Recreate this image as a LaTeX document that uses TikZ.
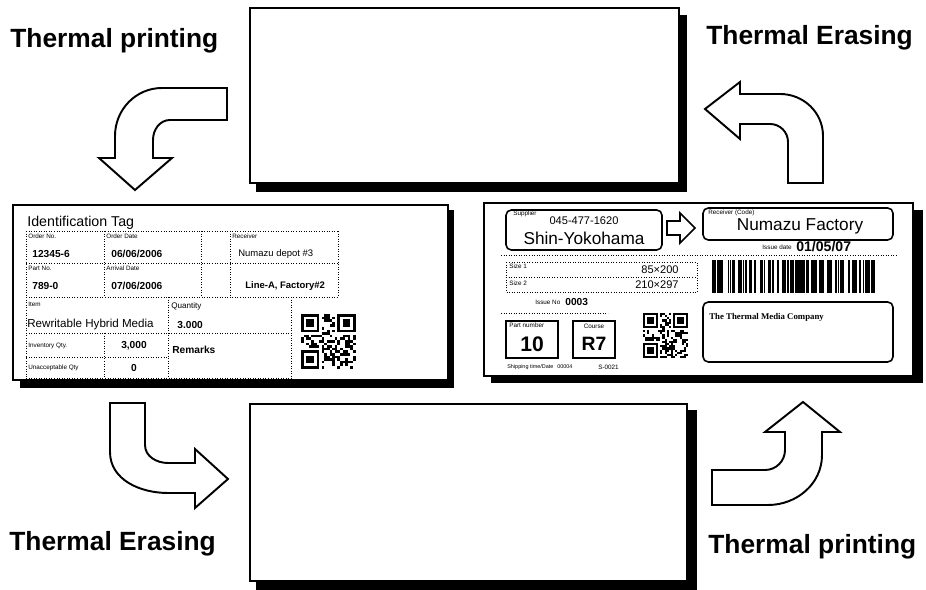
\documentclass[tikz,border=0pt]{standalone}
\usepackage{fontspec}
\setmainfont{Liberation Sans}
\newfontfamily\tagserif{Liberation Serif}
\newcommand{\qrbox}[4]{%
  \pgfmathsetseed{#3}
  \foreach \i in {0,...,20}
    \foreach \j in {0,...,20}{
      \pgfmathrandominteger{\qrbit}{0}{1}
      \ifnum\qrbit=1 \fill (#1+\i*#4,#2+\j*#4) rectangle ++(#4,#4);\fi
    }
  \foreach \a/\b/\ca/\cb in {0/0/0/0,14/0/13/0,0/14/0/13}{
    \fill[white] (#1+\ca*#4,#2+\cb*#4) rectangle ++(8*#4,8*#4);
    \fill (#1+\a*#4,#2+\b*#4) rectangle ++(7*#4,7*#4);
    \fill[white] (#1+\a*#4+#4,#2+\b*#4+#4) rectangle ++(5*#4,5*#4);
    \fill (#1+\a*#4+2*#4,#2+\b*#4+2*#4) rectangle ++(3*#4,3*#4);
  }
}
\begin{document}
\begin{tikzpicture}[x=.02cm,y=-.02cm,
  steplabel/.style={font=\fontsize{15}{17}\selectfont\bfseries,anchor=base west,inner sep=0pt},
  tiny/.style={font=\fontsize{3.6}{4}\selectfont,anchor=west,inner sep=0pt},
  val/.style={font=\fontsize{5.8}{6.5}\selectfont\bfseries,anchor=west,inner sep=0pt},
  grid/.style={densely dotted,line width=.45pt},
  card/.style={draw,line width=1.1pt,fill=white},
  tagedge/.style={draw,line width=.8pt,fill=white},
  cell/.style={draw,line width=.9pt,rounded corners=3pt},
  blockarrow/.style={draw,line width=1.1pt,fill=white,line join=miter}]
\useasboundingbox (0,0) rectangle (926,590);

\fill (256,15) rectangle (687,192);
\path[card] (250,8) rectangle (679,183);
\fill (256,410) rectangle (697,590);
\path[card] (250,404) rectangle (687,581);

\node[steplabel] (printTL) at (10,48) {Thermal printing};
\node[steplabel] (eraseTR) at (706,45) {Thermal Erasing};
\node[steplabel] (eraseBL) at (9,551) {Thermal Erasing};
\node[steplabel] (printBR) at (708,554) {Thermal printing};

\path[blockarrow] (227,88) -- (162,88) to[out=180,in=90] (115,136) -- (115,158) -- (99,158)
  -- (135,190) -- (172,158) -- (153,158) -- (153,140) to[out=90,in=180] (170,120) -- (227,120) -- cycle;
\path[blockarrow] (823,183) -- (823,136) to[out=90,in=0] (780,94) -- (740,94) -- (740,82)
  -- (705,109) -- (740,139) -- (740,124) -- (770,124) to[out=0,in=90] (788,142) -- (788,183) -- cycle;
\path[blockarrow] (110,403) -- (145,403) -- (145,445) to[out=-90,in=180] (168,463) -- (195,463)
  -- (195,449) -- (228,479) -- (195,508) -- (195,493) -- (168,493) to[out=180,in=-90] (110,452) -- cycle;
\path[blockarrow] (712,470) -- (765,470) to[out=0,in=-90] (785,450) -- (785,432) -- (765,432)
  -- (803,402) -- (840,432) -- (822,432) -- (822,455) to[out=-90,in=0] (768,505) -- (712,505) -- cycle;

\fill (20,210) rectangle (454,388);
\path[tagedge] (13,205) rectangle (448,380);
\node[font=\fontsize{8.1}{9}\selectfont,anchor=base west,inner sep=0pt] (idtag) at (27,227) {Identification Tag};
\draw[grid] (26,231) -- (338,231) (26,263) -- (338,263) (26,297) -- (338,297)
  (26,333) -- (291,333) (26,357) -- (168,357) (26,378) -- (291,378)
  (26,231) -- (26,378) (104,231) -- (104,297) (104,333) -- (104,378)
  (201,231) -- (201,297) (230,231) -- (230,297) (338,231) -- (338,297)
  (168,297) -- (168,378) (291,297) -- (291,378);
\node[tiny] (ordno) at (28,236) {Order No.};
\node[tiny] (orddate) at (106,236) {Order Date};
\node[tiny] (recv) at (232,236) {Receiver};
\node[tiny] (partno) at (28,268) {Part No.};
\node[tiny] (arrdate) at (106,268) {Arrival Date};
\node[tiny] (item) at (28,304) {Item};
\node[tiny,font=\fontsize{4.6}{5}\selectfont] (qtylab) at (171,306) {Quantity};
\node[tiny] (invqty) at (28,346) {Inventory Qty.};
\node[tiny] (badqty) at (28,368) {Unacceptable Qty};
\node[val] (ordval) at (32,254) {12345-6};
\node[val] (dateval) at (111,254) {06/06/2006};
\node[val,font=\fontsize{5.4}{6}\selectfont] (recval) at (238,254) {Numazu depot \#3};
\node[val] (partval) at (32,286) {789-0};
\node[val] (arrval) at (111,286) {07/06/2006};
\node[val,font=\fontsize{5.4}{6}\selectfont\bfseries] (lineval) at (245,286) {Line-A, Factory\#2};
\node[val,font=\fontsize{6.6}{7}\selectfont] (itemval) at (27,325) {Rewritable Hybrid Media};
\node[val] (qtyval) at (177,325) {3.000};
\node[val,anchor=center] (invval) at (134,346) {3,000};
\node[val] (remarks) at (172,350) {Remarks};
\node[val,anchor=center] (badval) at (134,368) {0};
\qrbox{301}{314}{3}{2.6}

\fill (491,210) rectangle (923,383);
\path[tagedge] (484,203) rectangle (913,376);
\draw[cell] (506,210) rectangle (662,250);
\node[tiny] (supp) at (513,214) {Supplier};
\node[font=\fontsize{6.3}{7}\selectfont,inner sep=0pt] (tel) at (584,221) {045-477-1620};
\node[font=\fontsize{9.8}{11}\selectfont,inner sep=0pt] (shin) at (584,238) {Shin-Yokohama};
\path[draw,line width=.9pt,line join=miter] (667,221) -- (680,221) -- (680,213) -- (695,228)
  -- (680,243) -- (680,235) -- (667,235) -- cycle;
\draw[cell] (703,208) rectangle (893,240);
\node[tiny] (recvcode) at (708,213) {Receiver (Code)};
\node[font=\fontsize{9.8}{11}\selectfont,inner sep=0pt] (numazu) at (800,226) {Numazu Factory};
\node[tiny,anchor=east] (issdate) at (792,247) {Issue date};
\node[val,font=\fontsize{8}{9}\selectfont\bfseries] (issval) at (796,247) {01/05/07};
\draw[grid] (501,255) -- (897,255);
\draw[grid] (506,262) rectangle (697,292) (506,277) -- (697,277);
\node[tiny] (size1) at (509,266) {Size 1};
\node[tiny] (size2) at (509,283) {Size 2};
\node[val,font=\fontsize{6.3}{7}\selectfont,anchor=east] (sizea) at (679,270) {85×200};
\node[val,font=\fontsize{6.3}{7}\selectfont,anchor=east] (sizeb) at (679,285) {210×297};
\pgfmathsetseed{11}
\foreach \k in {0,...,149}{
  \pgfmathrandominteger{\qrbit}{0}{2}
  \ifnum\qrbit>0 \fill (710+\k*1.1,260) rectangle ++(1.1,33);\fi
}
\node[tiny] (issno) at (535,302) {Issue No};
\node[val] (issnoval) at (565,302) {0003};
\draw[grid] (501,313) -- (608,313);
\draw[line width=.9pt] (506,321) rectangle (558,358) (573,321) rectangle (615,358);
\node[tiny] (partnum) at (509,325) {Part number};
\node[font=\fontsize{12}{13}\selectfont\bfseries,inner sep=0pt] (ten) at (532,344) {10};
\node[tiny,anchor=center] (course) at (594,326) {Course};
\node[font=\fontsize{11}{12}\selectfont\bfseries,inner sep=0pt] (rseven) at (594,344) {R7};
\node[tiny,font=\fontsize{3.1}{4}\selectfont] (shiptime) at (507,367) {Shipping time/Date};
\node[tiny,font=\fontsize{3.1}{4}\selectfont] (shipno) at (557,367) {00004};
\node[tiny] (sno) at (598,367) {S-0021};
\qrbox{643}{313}{5}{2.15}
\draw[cell] (703,302) rectangle (893,362);
\node[tiny,font=\fontsize{5}{6}\tagserif\bfseries] (company) at (709,317) {The Thermal Media Company};
\end{tikzpicture}
\end{document}
